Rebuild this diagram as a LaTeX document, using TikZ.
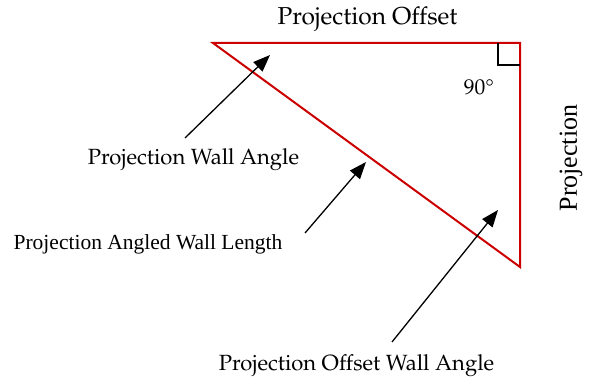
\documentclass[tikz,border=0pt]{standalone}
\usepackage[T1]{fontenc}
\usepackage{fontspec}
\setmainfont{Liberation Serif}
\newfontfamily\tnrfont{Liberation Serif}
\usetikzlibrary{arrows.meta}
\newcommand\palfont{\fontencoding{T1}\fontfamily{ppl}\selectfont}
\definecolor{wallred}{RGB}{204,0,0}
\tikzset{
  wall/.style={draw=wallred, line width=2pt, line join=miter},
  pointer/.style={draw=black, line width=1.3pt, -{Triangle[length=17pt,width=13pt]}},
  pallabel/.style={inner sep=0pt, anchor=base, font=\palfont\fontsize{22}{26}\selectfont},
  timeslabel/.style={inner sep=0pt, anchor=base, font=\tnrfont\fontsize{21.5}{25}\selectfont},
  sidelabel/.style={inner sep=0pt, font=\tnrfont\fontsize{26}{30}\selectfont},
}
\begin{document}
\begin{tikzpicture}[x=1pt,y=-1pt]
\useasboundingbox (0,0) rectangle (590,379);
% triangle corners
\coordinate (A) at (213,43);
\coordinate (B) at (520,43);
\coordinate (C) at (520,267);
\draw[wall] (A) -- (B) -- (C) -- cycle;
% right angle mark
\coordinate (R1) at (498,43);
\coordinate (R2) at (498,65);
\coordinate (R3) at (520,65);
\draw[line width=1.3pt] (R1) -- (R2) -- (R3);
% labels
\node[pallabel, font=\palfont\fontsize{24.5}{28}\selectfont] (top) at (367.5,25) {Projection Offset};
\node[pallabel, font=\palfont\fontsize{21.5}{26}\selectfont] (deg) at (479,95) {90\textdegree};
\node[sidelabel, rotate=90] (side) at (571,158) {Projection};
\node[pallabel] (pwa) at (193.5,165) {Projection Wall Angle};
\node[timeslabel] (pawl) at (148,250) {Projection Angled Wall Length};
\node[pallabel] (powa) at (356.5,371) {Projection Offset Wall Angle};
% arrows
\coordinate (t1) at (185,138);
\coordinate (h1) at (270,55);
\coordinate (t2) at (305,233);
\coordinate (h2) at (366,162);
\coordinate (t3) at (392,342);
\coordinate (h3) at (498,210);
\draw[pointer] (t1) -- (h1);
\draw[pointer] (t2) -- (h2);
\draw[pointer] (t3) -- (h3);
\end{tikzpicture}
\end{document}
